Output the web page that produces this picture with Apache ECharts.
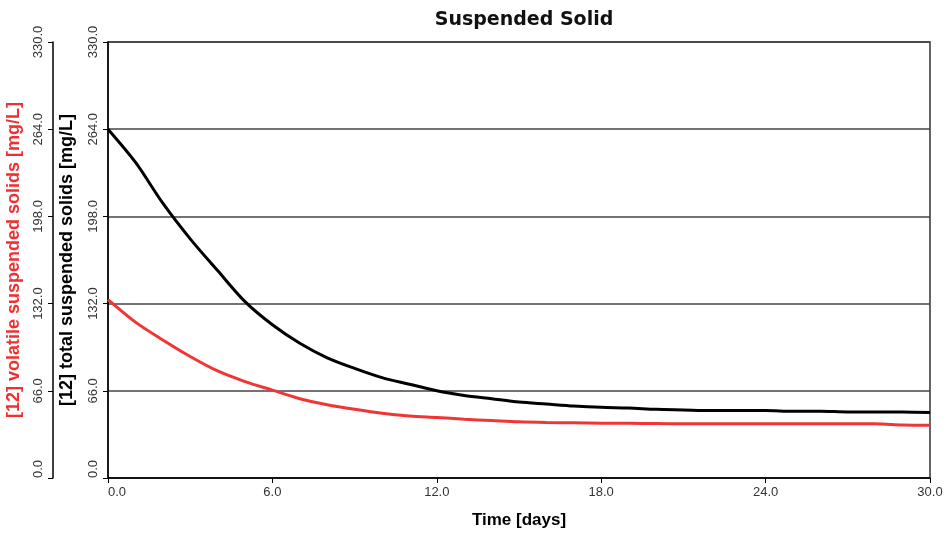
<!DOCTYPE html>
<html>
<head>
<meta charset="utf-8">
<script src="https://cdn.jsdelivr.net/npm/echarts@6/dist/echarts.min.js"></script>
<style>
	html, body { margin: 0; padding: 0; background: #fff; }
	#chart { width: 951px; height: 533px; }
</style>
</head>
<body>
<div id="chart"></div>
<script>
// time in days
const days = [0, 1, 2, 3, 4, 5, 6, 7, 8, 9, 10, 11, 12, 13, 14, 15, 16, 17, 18, 19, 20, 21, 22, 23, 24, 25, 26, 27, 28, 29, 30]
// [12] total suspended solids [mg/L]
const tss = [264, 239, 208, 181, 157, 133.5, 116, 102, 91, 83, 76, 71, 66, 62.5, 60, 57.5, 56, 54.5, 53.5, 53, 52, 51.5, 51, 51, 51, 50.5, 50.5, 50, 50, 50, 49.5]
// [12] volatile suspended solids [mg/L]
const vss = [135, 118, 104.5, 92, 81, 73, 66.5, 60, 55.5, 52, 49, 47, 45.8, 44.5, 43.5, 42.5, 42, 41.8, 41.5, 41.4, 41.2, 41, 41, 41, 41, 41, 41, 41, 41, 40.2, 40]

const yTicks = [0, 66, 132, 198, 264, 330]
const xTicks = [0, 6, 12, 18, 24, 30]

const font = 'Liberation Sans, Arial, sans-serif'
const fmt = v => v.toFixed(1)

function pairs(ys) {
	return days.map((d, i) => [d, ys[i]])
}

function yAxis(name, color, offset, gap, showSplit) {
	return {
		type: 'value',
		position: 'left',
		offset: offset,
		min: yTicks[0],
		max: yTicks[yTicks.length - 1],
		interval: 66,
		name: name,
		nameLocation: 'middle',
		nameRotate: 90,
		nameGap: gap,
		nameTextStyle: { color: color, fontFamily: font, fontWeight: 'bold', fontSize: 18 },
		axisLine: { show: true, onZero: false, lineStyle: { color: '#000', width: 1.5 } },
		axisTick: { show: true, inside: false, length: 5, lineStyle: { color: '#000' } },
		axisLabel: {
			rotate: 90,
			align: 'center',
			verticalAlign: 'bottom',
			alignMinLabel: 'left',
			margin: 8,
			color: '#333',
			fontFamily: font,
			fontSize: 13,
			formatter: fmt
		},
		splitLine: { show: showSplit, lineStyle: { color: '#444', width: 1.5 } }
	}
}

const chart = echarts.init(document.getElementById('chart'))
chart.setOption({
	backgroundColor: '#fff',
	animation: false,
	title: {
		text: 'Suspended Solid',
		left: 519,
		textAlign: 'center',
		top: 6,
		textStyle: { fontFamily: 'DejaVu Sans, sans-serif', fontWeight: 'bold', fontSize: 19, color: '#111' }
	},
	grid: {
		left: 108,
		right: 21,
		top: 42,
		bottom: 55,
		outerBoundsMode: 'none',
		show: true,
		borderColor: '#333',
		borderWidth: 1.5
	},
	xAxis: {
		type: 'value',
		min: xTicks[0],
		max: xTicks[xTicks.length - 1],
		interval: 6,
		name: 'Time [days]',
		nameLocation: 'middle',
		nameGap: 34,
		nameTextStyle: { color: '#000', fontFamily: font, fontWeight: 'bold', fontSize: 17 },
		axisLine: { onZero: false, lineStyle: { color: '#000', width: 1.5 } },
		axisTick: { show: true, length: 5, lineStyle: { color: '#000' } },
		axisLabel: {
			color: '#333',
			fontFamily: font,
			fontSize: 13,
			margin: 8,
			alignMinLabel: 'left',
			formatter: fmt
		},
		splitLine: { show: false }
	},
	yAxis: [
		yAxis('[12] total suspended solids [mg/L]', '#000', 0, 32, true),
		yAxis('[12] volatile suspended solids [mg/L]', '#f03030', 55, 30, false)
	],
	series: [
		{
			name: '[12] total suspended solids',
			type: 'line',
			yAxisIndex: 0,
			smooth: 0.3,
			showSymbol: false,
			lineStyle: { color: '#000', width: 3 },
			data: pairs(tss)
		},
		{
			name: '[12] volatile suspended solids',
			type: 'line',
			yAxisIndex: 1,
			smooth: 0.3,
			showSymbol: false,
			lineStyle: { color: '#f03535', width: 3 },
			data: pairs(vss)
		}
	]
})
</script>
</body>
</html>
